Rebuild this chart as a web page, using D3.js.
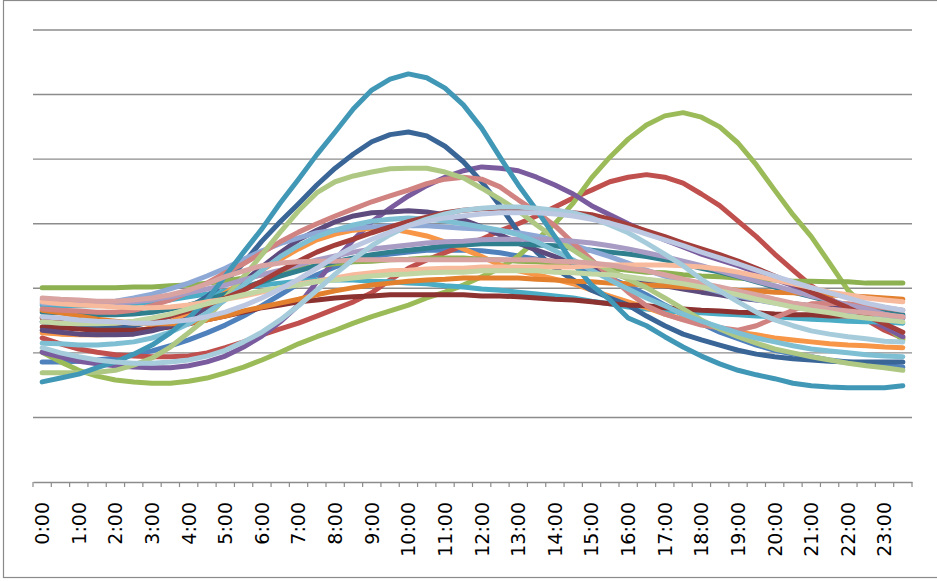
<!DOCTYPE html>
<html>
<head>
<meta charset="utf-8">
<script src="https://cdn.jsdelivr.net/npm/d3@7/dist/d3.min.js"></script>
<style>
  html, body { margin: 0; padding: 0; background: #ffffff; }
  svg { display: block; }
</style>
</head>
<body>
<svg id="chart" width="937" height="581"></svg>
<script>
// Half-hourly categories; only whole hours carry a label.
const categories = [
  "0:00","0:30","1:00","1:30","2:00","2:30","3:00","3:30","4:00","4:30","5:00","5:30",
  "6:00","6:30","7:00","7:30","8:00","8:30","9:00","9:30","10:00","10:30","11:00","11:30",
  "12:00","12:30","13:00","13:30","14:00","14:30","15:00","15:30","16:00","16:30","17:00","17:30",
  "18:00","18:30","19:00","19:30","20:00","20:30","21:00","21:30","22:00","22:30","23:00","23:30"
];
const tickLabels = [
  "0:00","1:00","2:00","3:00","4:00","5:00","6:00","7:00","8:00","9:00","10:00","11:00",
  "12:00","13:00","14:00","15:00","16:00","17:00","18:00","19:00","20:00","21:00","22:00","23:00"
];
const gridValues = [10, 20, 30, 40, 50, 60, 70];

// Daily profiles, one value per half hour.
const blue = [18.6,18.6,18.7,18.9,19.2,19.7,20.3,21.1,22.0,23.1,24.3,25.7,27.3,29.0,30.7,32.1,33.3,34.2,34.9,35.3,35.6,35.9,35.9,35.9,35.8,35.5,35.0,34.5,34.1,33.5,32.7,31.6,30.4,29.0,27.4,25.9,24.5,23.2,22.2,21.2,20.4,19.8,19.4,18.9,18.6,18.3,18.0,17.8];
const red = [22.3,21.4,20.6,20.1,19.7,19.5,19.4,19.4,19.5,20.0,20.8,21.7,22.8,23.7,24.6,25.7,26.8,27.9,29.3,31.3,33.1,34.4,35.5,36.6,37.6,38.9,40.0,41.2,42.6,44.0,45.2,46.5,47.2,47.6,47.2,46.3,44.6,42.8,40.4,38.0,35.3,32.8,30.4,28.5,26.6,25.1,23.5,22.3];
const green = [20.1,18.6,17.3,16.4,15.8,15.5,15.3,15.3,15.6,16.1,16.9,17.8,18.9,20.1,21.4,22.5,23.5,24.6,25.6,26.5,27.4,28.5,29.4,30.5,31.8,33.1,35.0,37.5,40.0,43.2,47.1,50.3,53.1,55.3,56.7,57.2,56.5,55.0,52.5,49.1,45.2,41.4,38.0,33.9,29.7,27.0,24.3,22.0];
const purple = [20.1,19.4,18.7,18.3,18.0,17.8,17.7,17.7,18.0,18.6,19.5,20.9,22.6,24.8,27.4,31.0,34.4,37.5,40.3,42.4,44.3,45.9,47.2,48.2,48.8,48.6,48.2,47.2,46.0,44.6,42.8,41.4,40.0,38.7,37.5,36.4,35.3,34.4,33.5,32.5,31.4,30.4,29.1,27.9,26.6,25.4,24.0,22.5];
const aqua = [27.4,27.3,27.3,27.3,27.4,27.6,27.9,28.2,28.7,29.1,29.6,30.1,30.5,30.8,31.1,31.3,31.3,31.3,31.1,31.0,30.8,30.7,30.4,30.2,29.9,29.7,29.4,29.1,28.8,28.5,28.0,27.6,27.1,26.8,26.5,26.3,26.2,26.0,25.9,25.7,25.6,25.4,25.2,25.1,24.9,24.8,24.8,24.6];
const orange = [23.1,22.9,22.8,22.8,22.9,23.2,23.9,24.8,26.0,27.6,29.3,31.1,32.8,34.5,36.1,37.5,38.4,39.0,39.3,39.2,38.7,38.1,37.2,36.1,34.9,33.6,32.7,32.1,31.4,30.7,29.7,28.8,27.9,27.0,26.0,25.2,24.5,23.9,23.2,22.8,22.3,22.0,21.7,21.4,21.2,21.1,20.9,20.8];
const darkBlue = [24.8,24.5,24.2,24.0,24.0,24.2,24.9,25.7,27.0,28.7,31.0,33.9,37.3,40.3,43.1,46.0,48.6,50.8,52.7,53.8,54.2,53.6,52.0,49.6,46.5,42.8,38.7,35.6,33.1,31.3,29.7,28.5,27.4,25.7,24.2,22.9,22.0,21.2,20.4,19.8,19.4,19.1,18.9,18.7,18.6,18.6,18.6,18.6];
const darkRed = [24.0,23.9,23.7,23.5,23.5,23.5,23.7,24.0,24.5,25.1,25.7,26.3,27.0,27.4,27.9,28.2,28.5,28.7,28.8,29.0,29.0,29.0,29.0,29.0,28.8,28.8,28.7,28.5,28.3,28.2,27.9,27.6,27.4,27.3,27.0,26.8,26.6,26.5,26.3,26.2,26.0,25.9,25.9,25.7,25.7,25.6,25.6,25.4];
const olive = [30.1,30.1,30.1,30.1,30.1,30.2,30.2,30.4,30.5,30.8,31.1,31.6,32.1,32.5,33.0,33.5,33.8,34.1,34.2,34.4,34.5,34.7,34.7,34.7,34.5,34.4,34.2,34.1,33.9,33.8,33.5,33.1,32.8,32.5,32.4,32.1,31.9,31.8,31.6,31.4,31.3,31.1,31.1,31.0,31.0,30.8,30.8,30.8];
const darkPurple = [23.5,23.2,22.9,22.8,22.8,22.9,23.4,24.2,25.4,27.0,28.8,31.0,33.3,35.5,37.5,39.0,40.3,41.2,41.7,41.8,42.0,41.8,41.4,40.6,39.5,38.3,37.0,35.9,34.9,33.9,33.1,32.4,31.6,31.0,30.4,29.9,29.4,29.0,28.5,28.2,27.9,27.6,27.3,27.0,26.6,26.3,26.0,25.7];
const darkTeal = [26.3,26.2,26.0,25.9,25.9,26.0,26.3,26.8,27.4,28.2,29.1,30.1,31.0,31.9,32.7,33.5,34.1,34.7,35.2,35.6,35.9,36.2,36.6,36.7,36.9,36.9,36.9,36.7,36.6,36.2,35.9,35.6,35.3,34.9,34.4,33.8,33.1,32.5,31.8,31.0,30.2,29.4,28.7,28.0,27.4,26.8,26.3,25.9];
const darkOrange = [26.6,26.2,25.7,25.2,24.9,24.6,24.5,24.5,24.6,25.1,25.7,26.5,27.1,27.7,28.3,29.0,29.6,30.1,30.5,30.8,31.1,31.3,31.4,31.6,31.6,31.6,31.6,31.4,31.3,31.1,31.0,30.8,30.7,30.5,30.4,30.2,30.1,29.9,29.7,29.6,29.4,29.3,29.1,29.0,28.8,28.7,28.5,28.3];
const steelBlue = [27.7,27.6,27.6,27.7,28.0,28.5,29.1,29.9,30.8,31.9,33.1,34.5,35.8,36.9,37.8,38.6,39.0,39.3,39.5,39.7,39.7,39.7,39.5,39.3,39.2,38.9,38.6,38.1,37.5,36.7,35.8,34.9,33.9,32.8,31.9,31.0,30.2,29.4,28.8,28.2,27.7,27.3,26.8,26.5,26.2,25.9,25.7,25.6];
const rose = [26.8,26.6,26.5,26.3,26.3,26.6,27.3,28.2,29.4,30.8,32.4,33.8,35.5,37.2,38.7,40.0,41.2,42.3,43.4,44.3,45.2,46.2,46.9,47.2,46.9,45.7,43.7,41.8,39.7,37.0,34.4,31.9,29.4,27.3,26.0,25.1,24.3,23.9,23.5,24.2,25.4,26.6,27.6,27.7,27.6,27.3,27.0,26.6];
const lightGreen = [16.9,16.9,16.9,17.0,17.3,18.1,19.2,20.9,23.1,25.4,28.5,31.8,35.2,38.7,42.0,44.8,46.5,47.4,48.0,48.5,48.6,48.6,48.0,47.1,45.5,43.8,42.0,39.8,37.8,35.9,34.1,32.8,31.4,30.1,28.5,26.8,25.1,23.7,22.5,21.5,20.6,20.0,19.4,18.9,18.4,18.0,17.7,17.3];
const lavender = [28.2,28.0,27.9,27.7,27.7,27.9,28.2,28.7,29.3,29.9,30.5,31.3,32.1,32.8,33.6,34.4,35.0,35.6,36.1,36.4,36.7,37.0,37.2,37.3,37.5,37.6,37.6,37.6,37.5,37.3,37.0,36.6,36.1,35.5,34.9,34.2,33.5,32.7,31.9,31.1,30.4,29.6,28.8,28.2,27.4,26.8,26.0,25.4];
const skyBlue = [21.5,21.4,21.2,21.2,21.4,21.7,22.3,23.2,24.5,26.2,28.2,30.5,32.8,34.9,36.6,38.0,39.0,39.8,40.4,40.7,40.9,40.7,40.4,40.0,39.5,39.0,38.3,37.2,35.8,34.4,32.8,31.3,29.9,28.5,27.3,26.0,24.9,24.0,23.1,22.3,21.7,21.1,20.6,20.3,20.0,19.7,19.5,19.4];
const brick = [25.4,25.1,24.8,24.6,24.6,24.8,25.1,25.7,26.5,27.4,28.5,29.7,31.1,32.7,34.2,35.6,36.7,37.6,38.6,39.5,40.3,41.0,41.7,42.1,42.3,42.4,42.4,42.3,42.0,41.7,41.4,40.7,39.8,38.9,38.0,37.0,36.1,35.2,34.2,33.1,31.9,30.7,29.4,28.2,27.0,25.7,24.5,23.2];
const deepAqua = [15.5,16.1,16.7,17.7,18.6,19.8,21.2,23.1,25.4,28.2,31.9,35.6,39.2,43.2,46.9,50.7,54.2,57.8,60.7,62.4,63.2,62.6,61.0,58.4,54.8,50.3,46.0,42.1,38.0,33.9,30.5,28.2,25.4,24.2,22.5,20.9,19.5,18.3,17.3,16.6,16.0,15.3,14.9,14.7,14.6,14.6,14.6,14.9];
const peach = [27.9,27.6,27.4,27.3,27.1,27.0,27.0,27.1,27.4,27.9,28.3,28.8,29.4,30.1,30.7,31.1,31.6,32.1,32.4,32.7,32.8,33.0,33.1,33.1,33.3,33.3,33.3,33.3,33.3,33.3,33.5,33.6,33.6,33.6,33.6,33.5,33.3,33.0,32.5,31.9,31.3,30.7,30.1,29.4,29.0,28.5,28.2,27.9];
const blush = [28.5,28.3,28.2,28.0,28.0,28.2,28.5,29.0,29.7,30.7,31.8,32.7,33.5,33.9,34.1,34.2,34.2,34.4,34.4,34.4,34.4,34.4,34.4,34.4,34.4,34.4,34.4,34.4,34.2,34.1,33.9,33.6,33.1,32.7,32.1,31.4,30.8,30.2,29.6,29.0,28.3,27.7,27.3,26.8,26.5,26.2,25.9,25.6];
const sage = [24.8,24.6,24.5,24.5,24.6,24.9,25.4,26.0,26.8,27.6,28.3,29.0,29.6,30.1,30.5,31.0,31.3,31.6,31.9,32.1,32.2,32.4,32.5,32.5,32.7,32.7,32.7,32.7,32.5,32.4,32.2,32.1,31.8,31.4,31.1,30.7,30.2,29.6,29.0,28.3,27.7,27.1,26.6,26.2,25.7,25.4,25.1,24.8];
const paleAqua = [20.8,20.0,19.4,18.9,18.6,18.4,18.4,18.6,18.9,19.5,20.4,21.7,23.2,25.1,27.3,29.7,32.2,34.5,36.6,38.3,39.7,40.7,41.5,42.1,42.4,42.6,42.6,42.4,42.1,41.7,40.9,39.8,38.6,37.0,35.3,33.5,31.4,29.6,27.9,26.3,25.1,24.2,23.4,22.9,22.5,22.2,21.8,21.7];
const mist = [25.6,25.4,25.1,24.9,24.8,24.6,24.6,24.8,25.1,25.6,26.3,27.3,28.5,29.9,31.4,33.1,34.9,36.4,37.6,38.7,39.7,40.4,40.9,41.2,41.5,41.7,41.7,41.7,41.5,41.2,40.7,40.1,39.3,38.4,37.5,36.6,35.6,34.7,33.8,32.8,31.9,31.0,30.1,29.3,28.5,27.7,27.1,26.6];

// Drawing order (later series sit on top) and their stroke colours.
const seriesValues = [blue, red, green, purple, aqua, orange, darkBlue, darkRed, olive, darkPurple,
  darkTeal, darkOrange, steelBlue, rose, lightGreen, lavender, skyBlue, brick, deepAqua,
  peach, blush, sage, paleAqua, mist];
const seriesColors = ["#4F81BD","#C0504D","#9BBB59","#7A5C9E","#4BACC6","#F79646","#3A6597","#8C3230","#8DB050","#5E4B7E",
  "#2F7F8F","#E2802E","#8FA9D6","#D08380","#AEC883","#A89BC4","#7EBFD4","#A33E3B","#4198B6",
  "#F7BA9C","#D9A3A2","#C1D6A3","#A6CCDC","#BCC8E1"];

const svg = d3.select("#chart");
const plot = { left: 33, right: 912, top: 30, bottom: 482 };

const x = d3.scaleBand().domain(categories).range([plot.left, plot.right]);
const y = d3.scaleLinear().domain([0, 70]).range([plot.bottom, plot.top]);

// Outer chart frame
svg.append("rect")
  .attr("x", 3.5).attr("y", 0.5)
  .attr("width", 945).attr("height", 577)
  .attr("fill", "#ffffff")
  .attr("stroke", "#8a8a8a")
  .attr("stroke-width", 1.2);

// Horizontal gridlines
svg.append("g")
  .selectAll("line")
  .data(gridValues)
  .join("line")
  .attr("x1", plot.left).attr("x2", plot.right)
  .attr("y1", d => y(d)).attr("y2", d => y(d))
  .attr("stroke", "#8c8c8c")
  .attr("stroke-width", 1.4);

// Category axis: labels on whole hours
const xAxis = d3.axisBottom(x)
  .tickValues(tickLabels)
  .tickSize(0)
  .tickPadding(0);

const axisG = svg.append("g")
  .attr("transform", `translate(0,${plot.bottom})`)
  .call(xAxis);

axisG.select(".domain")
  .attr("stroke", "#8c8c8c")
  .attr("stroke-width", 1.4);

axisG.selectAll(".tick text")
  .attr("transform", "rotate(-90)")
  .attr("x", -20)
  .attr("y", 0)
  .attr("dy", "0.36em")
  .style("text-anchor", "end")
  .style("font-family", "'DejaVu Sans', sans-serif")
  .style("font-size", "19px")
  .attr("fill", "#000000");

// Tick marks sit between categories
const boundaries = categories.map(c => x(c)).concat([x.range()[1]]);
axisG.append("g")
  .selectAll("line")
  .data(boundaries)
  .join("line")
  .attr("x1", d => d).attr("x2", d => d)
  .attr("y1", 0).attr("y2", 5)
  .attr("stroke", "#8c8c8c")
  .attr("stroke-width", 1.2);

// Series lines
const line = d3.line()
  .x((d, i) => x(categories[i]) + x.bandwidth() / 2)
  .y(d => y(d));

svg.append("g")
  .selectAll("path")
  .data(seriesValues)
  .join("path")
  .attr("d", d => line(d))
  .attr("fill", "none")
  .attr("stroke", (d, i) => seriesColors[i])
  .attr("stroke-width", 5)
  .attr("stroke-linejoin", "round")
  .attr("stroke-linecap", "round");
</script>
</body>
</html>
